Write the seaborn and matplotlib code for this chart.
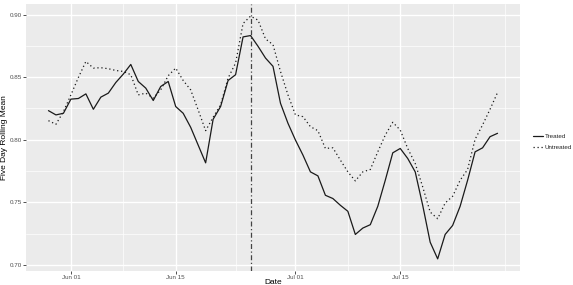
import numpy as np
import pandas as pd
import matplotlib
matplotlib.use("Agg")
import matplotlib.pyplot as plt
import matplotlib.dates as mdates
from matplotlib.lines import Line2D
import seaborn as sns

start_date = "2021-05-29"
treated = [0.8232, 0.8198, 0.8211, 0.8324, 0.8329, 0.8366, 0.8243, 0.8340, 0.8372, 0.8457,
           0.8524, 0.8601, 0.8465, 0.8412, 0.8313, 0.8425, 0.8465, 0.8265, 0.8211, 0.8099,
           0.7957, 0.7815, 0.8163, 0.8265, 0.8473, 0.8519, 0.8821, 0.8832, 0.8746, 0.8652,
           0.8586, 0.8291, 0.8131, 0.7997, 0.7877, 0.7743, 0.7711, 0.7556, 0.7530, 0.7476,
           0.7428, 0.7243, 0.7294, 0.7321, 0.7468, 0.7676, 0.7895, 0.7930, 0.7850, 0.7743,
           0.7476, 0.7181, 0.7048, 0.7243, 0.7315, 0.7468, 0.7676, 0.7903, 0.7935, 0.8024,
           0.8051]
untreated = [0.8152, 0.8123, 0.8224, 0.8358, 0.8497, 0.8625, 0.8572, 0.8575, 0.8567, 0.8553,
             0.8545, 0.8519, 0.8358, 0.8372, 0.8332, 0.8398, 0.8511, 0.8572, 0.8473, 0.8398,
             0.8238, 0.8072, 0.8179, 0.8278, 0.8492, 0.8612, 0.8928, 0.8987, 0.8955, 0.8805,
             0.8759, 0.8545, 0.8358, 0.8198, 0.8184, 0.8104, 0.8072, 0.7930, 0.7935, 0.7837,
             0.7743, 0.7671, 0.7743, 0.7762, 0.7903, 0.8037, 0.8139, 0.8077, 0.7930, 0.7810,
             0.7623, 0.7422, 0.7369, 0.7494, 0.7548, 0.7676, 0.7762, 0.8003, 0.8118, 0.8243,
             0.8377]
groups = ["Treated", "Untreated"]
intervention_date = "2021-06-25"
x_major_ticks = ["2021-06-01", "2021-06-15", "2021-07-01", "2021-07-15"]
x_minor_ticks = ["2021-06-08", "2021-06-23", "2021-07-08", "2021-07-22", "2021-07-29"]
y_major_ticks = [0.70, 0.75, 0.80, 0.85, 0.90]
y_minor_ticks = [0.725, 0.775, 0.825, 0.875]

dates = pd.date_range(start_date, periods=len(treated), freq="D")
df = pd.concat([
    pd.DataFrame({"Date": dates, "value": treated, "group": groups[0]}),
    pd.DataFrame({"Date": dates, "value": untreated, "group": groups[1]}),
])

sns.set_theme(style="darkgrid")
plt.rcParams["font.family"] = ["Liberation Sans", "DejaVu Sans"]

fig = plt.figure(figsize=(5.73, 2.85), dpi=100)
ax = fig.add_axes([26 / 573, 1 - 271 / 285, (520 - 26) / 573, (271 - 4) / 285])
ax.set_facecolor("#EBEBEB")

sns.lineplot(data=df, x="Date", y="value", style="group", color="#1a1a1a",
             dashes={"Treated": "", "Untreated": (1, 2.2)}, linewidth=0.9,
             legend=False, ax=ax)

ax.axvline(pd.Timestamp(intervention_date), color="#444444", linewidth=0.9,
           linestyle=(0, (4, 2, 1, 2)), zorder=3)

d0, d1 = dates.min(), dates.max()
span = d1 - d0
ax.set_xlim(d0 - span * 0.05, d1 + span * 0.05)
vmin = min(min(treated), min(untreated))
vmax = max(max(treated), max(untreated))
pad = (vmax - vmin) * 0.05
ax.set_ylim(vmin - pad, vmax + pad)

ax.set_xticks(pd.to_datetime(x_major_ticks))
ax.set_xticks(pd.to_datetime(x_minor_ticks), minor=True)
ax.xaxis.set_major_formatter(mdates.DateFormatter("%b %d"))
ax.set_yticks(y_major_ticks)
ax.set_yticks(y_minor_ticks, minor=True)
ax.set_yticklabels([f"{v:.2f}" for v in y_major_ticks])

ax.grid(True, which="major", color="white", linewidth=1.0)
ax.grid(True, which="minor", color="white", linewidth=0.5)
ax.set_axisbelow(True)
for s in ax.spines.values():
    s.set_visible(False)

ax.tick_params(axis="both", which="major", length=2.0, width=0.6, color="#333333",
               labelsize=4.5, labelcolor="#4D4D4D", pad=1.0, bottom=True, left=True)
ax.tick_params(axis="both", which="minor", length=0)

ax.set_xlabel("Date", fontsize=6, color="black")
ax.set_ylabel("Five Day Rolling Mean", fontsize=6, color="black")
ax.yaxis.set_label_coords((4.5 - 26) / 494, 0.5)
ax.xaxis.set_label_coords(0.5, (271 - 283) / 267)
ax.xaxis.label.set_va("center")
ax.yaxis.label.set_va("center")

handles = [Line2D([], [], color="#1a1a1a", linewidth=0.9, linestyle="-"),
           Line2D([], [], color="#1a1a1a", linewidth=0.9, linestyle=(0, (1, 2.2)))]
fig.legend(handles, groups, loc="center left", bbox_to_anchor=(533 / 573, 1 - 142 / 285),
           frameon=False, fontsize=4.5, handlelength=1.6, handletextpad=0.3,
           labelspacing=0.9, borderaxespad=0, borderpad=0)

fig.savefig("out.png", dpi=100)
